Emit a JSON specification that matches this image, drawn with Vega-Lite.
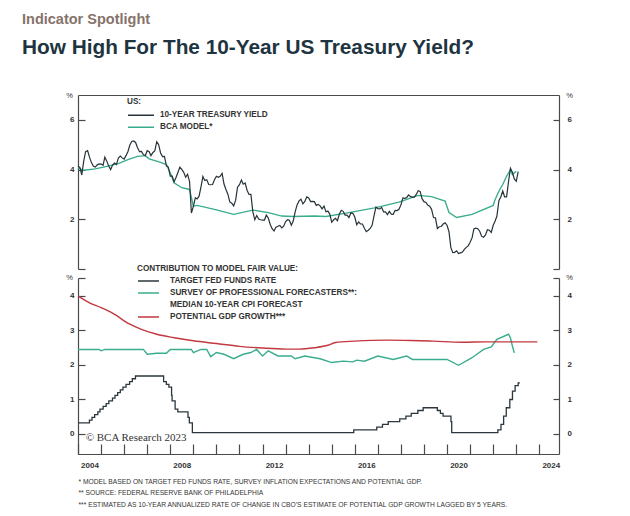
{
"$schema":"https://vega.github.io/schema/vega-lite/v6.json",
"background":"white",
"padding":{"left":22,"top":11,"right":5,"bottom":2},
"bounds":"flush",
"title":{"text":"Indicator Spotlight","subtitle":"How High For The 10-Year US Treasury Yield?","anchor":"start","frame":"group","dx":-56,"font":"Liberation Sans","fontSize":14.5,"fontWeight":"bold","color":"#86736a","subtitleFont":"Liberation Sans","subtitleFontSize":20.8,"subtitleFontWeight":"bold","subtitleColor":"#1e3440","subtitlePadding":11,"offset":32},
"config":{
"view":{"stroke":null},
"axis":{"domainColor":"#4a4a4a","tickColor":"#4a4a4a","domainWidth":1.2,"tickWidth":1.2,"labelFont":"Liberation Sans","labelFontSize":8,"labelFontWeight":"bold","labelColor":"#333","grid":false,"titleFont":"Liberation Sans","titleColor":"#333"},
"legend":{"padding":0,"labelFont":"Liberation Sans","labelFontSize":8.2,"labelFontWeight":"bold","labelColor":"#333","titleFont":"Liberation Sans","titleFontSize":8.2,"titleFontWeight":"bold","titleColor":"#333","symbolType":"stroke","symbolStrokeWidth":1.5,"rowPadding":0,"labelLimit":400,"titleLimit":400}
},
"resolve":{"scale":{"color":"independent","x":"independent"},"legend":{"color":"independent"}},
"spacing":9,
"datasets":{
"yield":[
{"d":"2004-01","v":4.15},{"d":"2004-02","v":4.08},{"d":"2004-03","v":3.78},{"d":"2004-04","v":4.35},{"d":"2004-05","v":4.72},{"d":"2004-06","v":4.76},{"d":"2004-07","v":4.50},{"d":"2004-08","v":4.28},{"d":"2004-09","v":4.13},{"d":"2004-10","v":4.10},{"d":"2004-11","v":4.19},{"d":"2004-12","v":4.23},
{"d":"2005-01","v":4.22},{"d":"2005-02","v":4.17},{"d":"2005-03","v":4.50},{"d":"2005-04","v":4.34},{"d":"2005-05","v":4.14},{"d":"2005-06","v":4.00},{"d":"2005-07","v":4.18},{"d":"2005-08","v":4.26},{"d":"2005-09","v":4.20},{"d":"2005-10","v":4.46},{"d":"2005-11","v":4.54},{"d":"2005-12","v":4.47},
{"d":"2006-01","v":4.42},{"d":"2006-02","v":4.57},{"d":"2006-03","v":4.72},{"d":"2006-04","v":4.99},{"d":"2006-05","v":5.13},{"d":"2006-06","v":5.15},{"d":"2006-07","v":5.09},{"d":"2006-08","v":4.88},{"d":"2006-09","v":4.72},{"d":"2006-10","v":4.73},{"d":"2006-11","v":4.60},{"d":"2006-12","v":4.56},
{"d":"2007-01","v":4.76},{"d":"2007-02","v":4.72},{"d":"2007-03","v":4.56},{"d":"2007-04","v":4.69},{"d":"2007-05","v":4.75},{"d":"2007-06","v":5.12},{"d":"2007-07","v":5.00},{"d":"2007-08","v":4.67},{"d":"2007-09","v":4.52},{"d":"2007-10","v":4.53},{"d":"2007-11","v":4.15},{"d":"2007-12","v":4.10},
{"d":"2008-01","v":3.74},{"d":"2008-02","v":3.74},{"d":"2008-03","v":3.51},{"d":"2008-04","v":3.68},{"d":"2008-05","v":3.88},{"d":"2008-06","v":4.10},{"d":"2008-07","v":4.01},{"d":"2008-08","v":3.89},{"d":"2008-09","v":3.69},{"d":"2008-10","v":3.81},{"d":"2008-11","v":3.53},{"d":"2008-12","v":2.25},
{"d":"2009-01","v":2.52},{"d":"2009-02","v":2.87},{"d":"2009-03","v":2.82},{"d":"2009-04","v":2.93},{"d":"2009-05","v":3.29},{"d":"2009-06","v":3.72},{"d":"2009-07","v":3.56},{"d":"2009-08","v":3.59},{"d":"2009-09","v":3.40},{"d":"2009-10","v":3.39},{"d":"2009-11","v":3.40},{"d":"2009-12","v":3.59},
{"d":"2010-01","v":3.73},{"d":"2010-02","v":3.69},{"d":"2010-03","v":3.73},{"d":"2010-04","v":3.85},{"d":"2010-05","v":3.42},{"d":"2010-06","v":3.20},{"d":"2010-07","v":3.01},{"d":"2010-08","v":2.70},{"d":"2010-09","v":2.65},{"d":"2010-10","v":2.54},{"d":"2010-11","v":2.76},{"d":"2010-12","v":3.29},
{"d":"2011-01","v":3.39},{"d":"2011-02","v":3.58},{"d":"2011-03","v":3.41},{"d":"2011-04","v":3.46},{"d":"2011-05","v":3.17},{"d":"2011-06","v":3.00},{"d":"2011-07","v":3.00},{"d":"2011-08","v":2.30},{"d":"2011-09","v":1.98},{"d":"2011-10","v":2.15},{"d":"2011-11","v":2.01},{"d":"2011-12","v":1.98},
{"d":"2012-01","v":1.97},{"d":"2012-02","v":1.97},{"d":"2012-03","v":2.17},{"d":"2012-04","v":2.05},{"d":"2012-05","v":1.80},{"d":"2012-06","v":1.62},{"d":"2012-07","v":1.53},{"d":"2012-08","v":1.68},{"d":"2012-09","v":1.72},{"d":"2012-10","v":1.75},{"d":"2012-11","v":1.65},{"d":"2012-12","v":1.72},
{"d":"2013-01","v":1.91},{"d":"2013-02","v":1.98},{"d":"2013-03","v":1.96},{"d":"2013-04","v":1.76},{"d":"2013-05","v":1.93},{"d":"2013-06","v":2.30},{"d":"2013-07","v":2.58},{"d":"2013-08","v":2.74},{"d":"2013-09","v":2.81},{"d":"2013-10","v":2.62},{"d":"2013-11","v":2.72},{"d":"2013-12","v":2.90},
{"d":"2014-01","v":2.86},{"d":"2014-02","v":2.71},{"d":"2014-03","v":2.72},{"d":"2014-04","v":2.71},{"d":"2014-05","v":2.56},{"d":"2014-06","v":2.60},{"d":"2014-07","v":2.54},{"d":"2014-08","v":2.42},{"d":"2014-09","v":2.53},{"d":"2014-10","v":2.30},{"d":"2014-11","v":2.33},{"d":"2014-12","v":2.21},
{"d":"2015-01","v":1.88},{"d":"2015-02","v":1.98},{"d":"2015-03","v":2.04},{"d":"2015-04","v":1.94},{"d":"2015-05","v":2.20},{"d":"2015-06","v":2.36},{"d":"2015-07","v":2.32},{"d":"2015-08","v":2.17},{"d":"2015-09","v":2.17},{"d":"2015-10","v":2.07},{"d":"2015-11","v":2.26},{"d":"2015-12","v":2.24},
{"d":"2016-01","v":2.09},{"d":"2016-02","v":1.78},{"d":"2016-03","v":1.89},{"d":"2016-04","v":1.81},{"d":"2016-05","v":1.81},{"d":"2016-06","v":1.64},{"d":"2016-07","v":1.50},{"d":"2016-08","v":1.56},{"d":"2016-09","v":1.63},{"d":"2016-10","v":1.76},{"d":"2016-11","v":2.14},{"d":"2016-12","v":2.49},
{"d":"2017-01","v":2.43},{"d":"2017-02","v":2.42},{"d":"2017-03","v":2.48},{"d":"2017-04","v":2.30},{"d":"2017-05","v":2.30},{"d":"2017-06","v":2.19},{"d":"2017-07","v":2.32},{"d":"2017-08","v":2.21},{"d":"2017-09","v":2.20},{"d":"2017-10","v":2.36},{"d":"2017-11","v":2.35},{"d":"2017-12","v":2.40},
{"d":"2018-01","v":2.58},{"d":"2018-02","v":2.86},{"d":"2018-03","v":2.84},{"d":"2018-04","v":2.87},{"d":"2018-05","v":2.98},{"d":"2018-06","v":2.91},{"d":"2018-07","v":2.89},{"d":"2018-08","v":2.89},{"d":"2018-09","v":3.00},{"d":"2018-10","v":3.15},{"d":"2018-11","v":3.12},{"d":"2018-12","v":2.83},
{"d":"2019-01","v":2.71},{"d":"2019-02","v":2.68},{"d":"2019-03","v":2.57},{"d":"2019-04","v":2.53},{"d":"2019-05","v":2.40},{"d":"2019-06","v":2.07},{"d":"2019-07","v":2.06},{"d":"2019-08","v":1.63},{"d":"2019-09","v":1.70},{"d":"2019-10","v":1.71},{"d":"2019-11","v":1.81},{"d":"2019-12","v":1.86},
{"d":"2020-01","v":1.76},{"d":"2020-02","v":1.50},{"d":"2020-03","v":0.87},{"d":"2020-04","v":0.66},{"d":"2020-05","v":0.67},{"d":"2020-06","v":0.73},{"d":"2020-07","v":0.62},{"d":"2020-08","v":0.65},{"d":"2020-09","v":0.68},{"d":"2020-10","v":0.79},{"d":"2020-11","v":0.87},{"d":"2020-12","v":0.93},
{"d":"2021-01","v":1.08},{"d":"2021-02","v":1.26},{"d":"2021-03","v":1.61},{"d":"2021-04","v":1.64},{"d":"2021-05","v":1.62},{"d":"2021-06","v":1.52},{"d":"2021-07","v":1.32},{"d":"2021-08","v":1.28},{"d":"2021-09","v":1.37},{"d":"2021-10","v":1.58},{"d":"2021-11","v":1.56},{"d":"2021-12","v":1.47},
{"d":"2022-01","v":1.76},{"d":"2022-02","v":1.93},{"d":"2022-03","v":2.13},{"d":"2022-04","v":2.75},{"d":"2022-05","v":2.90},{"d":"2022-06","v":3.14},{"d":"2022-07","v":2.90},{"d":"2022-08","v":2.90},{"d":"2022-09","v":3.52},{"d":"2022-10","v":4.05},{"d":"2022-11","v":3.89},{"d":"2022-12","v":3.62},
{"d":"2023-01","v":3.53},{"d":"2023-02","v":3.92}
],
"model":[
{"d":"2004-01","v":4.07},{"d":"2004-04","v":3.97},{"d":"2004-10","v":4.03},{"d":"2005-04","v":4.13},{"d":"2005-10","v":4.24},{"d":"2006-03","v":4.4},{"d":"2006-08","v":4.53},{"d":"2006-12","v":4.56},{"d":"2007-02","v":4.43},{"d":"2007-08","v":4.29},{"d":"2007-11","v":4.2},{"d":"2008-01","v":3.87},{"d":"2008-03","v":3.47},{"d":"2008-07","v":3.27},{"d":"2008-11","v":3.2},{"d":"2009-01","v":2.53},{"d":"2009-03","v":2.56},{"d":"2009-12","v":2.4},{"d":"2010-10","v":2.2},{"d":"2011-08","v":2.37},{"d":"2012-04","v":2.27},{"d":"2012-11","v":2.13},{"d":"2013-05","v":2.11},{"d":"2014-04","v":2.13},{"d":"2014-10","v":2.11},{"d":"2015-10","v":2.27},{"d":"2016-12","v":2.47},{"d":"2017-12","v":2.69},{"d":"2018-10","v":2.96},{"d":"2019-05","v":2.91},{"d":"2019-12","v":2.73},{"d":"2020-02","v":2.27},{"d":"2020-06","v":2.07},{"d":"2021-02","v":2.2},{"d":"2022-01","v":2.56},{"d":"2022-02","v":2.8},{"d":"2022-04","v":3.13},{"d":"2022-06","v":3.4},{"d":"2022-08","v":3.73},{"d":"2022-10","v":4.0},{"d":"2022-11","v":3.8},{"d":"2023-01","v":3.93}
],
"fed":[
{"d":"2004-01-01","v":0.32},{"d":"2004-06-30","v":0.40},{"d":"2004-08-10","v":0.48},{"d":"2004-09-21","v":0.56},{"d":"2004-11-10","v":0.64},{"d":"2004-12-14","v":0.72},{"d":"2005-02-02","v":0.80},{"d":"2005-03-22","v":0.88},{"d":"2005-05-03","v":0.96},{"d":"2005-06-30","v":1.04},{"d":"2005-08-09","v":1.12},{"d":"2005-09-20","v":1.20},{"d":"2005-11-01","v":1.28},{"d":"2005-12-13","v":1.36},{"d":"2006-01-31","v":1.44},{"d":"2006-03-28","v":1.52},{"d":"2006-05-10","v":1.60},{"d":"2006-06-29","v":1.68},{"d":"2007-09-18","v":1.52},{"d":"2007-10-31","v":1.44},{"d":"2007-12-11","v":1.36},{"d":"2008-01-22","v":1.12},{"d":"2008-01-30","v":0.96},{"d":"2008-03-18","v":0.72},{"d":"2008-04-30","v":0.64},{"d":"2008-10-08","v":0.48},{"d":"2008-10-29","v":0.32},{"d":"2008-12-16","v":0.04},{"d":"2015-12-16","v":0.12},{"d":"2016-12-14","v":0.20},{"d":"2017-03-15","v":0.28},{"d":"2017-06-14","v":0.36},{"d":"2017-12-13","v":0.44},{"d":"2018-03-21","v":0.52},{"d":"2018-06-13","v":0.60},{"d":"2018-09-26","v":0.68},{"d":"2018-12-19","v":0.76},{"d":"2019-07-31","v":0.68},{"d":"2019-09-18","v":0.60},{"d":"2019-10-30","v":0.52},{"d":"2020-03-03","v":0.36},{"d":"2020-03-15","v":0.04},{"d":"2022-03-16","v":0.12},{"d":"2022-05-04","v":0.28},{"d":"2022-06-15","v":0.52},{"d":"2022-07-27","v":0.76},{"d":"2022-09-21","v":1.00},{"d":"2022-11-02","v":1.24},{"d":"2022-12-14","v":1.40},{"d":"2023-02-01","v":1.48},{"d":"2023-02-28","v":1.48}
],
"spf":[
{"d":"2004-01","v":2.45},{"d":"2004-12","v":2.45},{"d":"2005-01","v":2.41},{"d":"2005-03","v":2.45},{"d":"2006-11","v":2.45},{"d":"2007-01","v":2.31},{"d":"2007-06","v":2.34},{"d":"2007-11","v":2.34},{"d":"2008-01","v":2.45},{"d":"2008-12","v":2.45},{"d":"2009-01","v":2.36},{"d":"2009-05","v":2.45},{"d":"2009-08","v":2.45},{"d":"2009-10","v":2.24},{"d":"2010-01","v":2.36},{"d":"2010-05","v":2.31},{"d":"2010-10","v":2.18},{"d":"2011-03","v":2.31},{"d":"2011-07","v":2.36},{"d":"2011-10","v":2.45},{"d":"2012-01","v":2.26},{"d":"2012-04","v":2.41},{"d":"2012-09","v":2.26},{"d":"2013-04","v":2.26},{"d":"2013-06","v":2.18},{"d":"2013-11","v":2.26},{"d":"2014-04","v":2.21},{"d":"2014-07","v":2.18},{"d":"2015-01","v":2.07},{"d":"2015-07","v":2.11},{"d":"2015-12","v":2.09},{"d":"2016-02","v":2.14},{"d":"2016-06","v":2.11},{"d":"2017-01","v":2.26},{"d":"2017-09","v":2.16},{"d":"2018-04","v":2.26},{"d":"2018-07","v":2.16},{"d":"2020-01","v":2.16},{"d":"2020-07","v":1.99},{"d":"2021-02","v":2.21},{"d":"2021-08","v":2.45},{"d":"2021-12","v":2.52},{"d":"2022-01","v":2.6},{"d":"2022-03","v":2.74},{"d":"2022-09","v":2.89},{"d":"2022-10","v":2.78},{"d":"2022-11","v":2.55},{"d":"2022-12","v":2.35}
],
"gdp":[
{"d":"2004-01","v":4.0},{"d":"2004-07","v":3.8},{"d":"2005-01","v":3.66},{"d":"2005-07","v":3.5},{"d":"2006-04","v":3.18},{"d":"2006-10","v":3.03},{"d":"2007-06","v":2.89},{"d":"2008-03","v":2.79},{"d":"2009-01","v":2.7},{"d":"2010-01","v":2.62},{"d":"2011-01","v":2.54},{"d":"2012-01","v":2.49},{"d":"2013-01","v":2.46},{"d":"2013-08","v":2.46},{"d":"2014-04","v":2.5},{"d":"2014-11","v":2.57},{"d":"2015-03","v":2.65},{"d":"2016-01","v":2.69},{"d":"2017-06","v":2.72},{"d":"2018-06","v":2.71},{"d":"2019-06","v":2.69},{"d":"2020-09","v":2.66},{"d":"2021-09","v":2.67},{"d":"2023-12","v":2.67}
],
"note":[{"label":"© BCA Research 2023"}]
},
"vconcat":[
{
"width":481,"height":174,
"encoding":{"x":{"field":"d","type":"temporal","scale":{"type":"utc","domain":[{"year":2004,"month":1,"date":1,"utc":true},{"year":2024,"month":11,"date":8,"utc":true}]},"axis":{"orient":"top","labels":false,"ticks":false,"title":null}}},
"layer":[
{"data":{"name":"model"},"mark":{"type":"line","strokeWidth":1.4},
"encoding":{
"y":{"field":"v","type":"quantitative","scale":{"domain":[0,7],"nice":false,"zero":false},"axis":{"values":[0,2,4,6],"labelExpr":"datum.value==0 ? '' : datum.label","tickSize":-7,"labelPadding":11,"title":"%","titleAngle":0,"titleX":-9,"titleY":0,"titleFontSize":7.5,"titleFontWeight":"normal","titleAlign":"center","titleBaseline":"middle"}},
"color":{"datum":"BCA MODEL*","scale":{"domain":["10-YEAR TREASURY YIELD","BCA MODEL*"],"range":["#26333a","#3aad8e"]},"legend":{"orient":"none","legendX":49,"legendY":3,"title":"US:","symbolSize":676,"clipHeight":12,"labelOffset":5,"titlePadding":3}}
}},
{"data":{"name":"yield"},"mark":{"type":"line","strokeWidth":1.2},
"encoding":{"y":{"field":"v","type":"quantitative","scale":{"domain":[0,7],"nice":false,"zero":false},"axis":null},"color":{"datum":"10-YEAR TREASURY YIELD"}}},
{"data":{"name":"yield"},"mark":{"type":"line","opacity":0},
"encoding":{"y":{"field":"v","type":"quantitative","scale":{"domain":[0,7],"nice":false,"zero":false},"axis":{"orient":"right","values":[0,2,4,6],"labelExpr":"datum.value==0 ? '' : datum.label","tickSize":-6,"labelPadding":14,"title":"%","titleAngle":0,"titleX":10,"titleY":0,"titleFontSize":7.5,"titleFontWeight":"normal","titleAlign":"center","titleBaseline":"middle"}}}}
],
"resolve":{"scale":{"y":"independent"}}
},
{
"width":481,"height":176,
"layer":[
{
"encoding":{"x":{"field":"d","type":"temporal","scale":{"type":"utc","domain":[{"year":2004,"month":1,"date":1,"utc":true},{"year":2024,"month":11,"date":8,"utc":true}]},"axis":{"orient":"bottom","tickCount":{"interval":"year","step":1},"tickSize":-10,"labelExpr":"utcyear(datum.value) % 4 == 0 ? utcFormat(datum.value, '%Y') : ''","labelOffset":11.5,"labelFlush":false,"labelOverlap":false,"labelPadding":17,"title":["*   MODEL BASED ON TARGET FED FUNDS RATE, SURVEY INFLATION EXPECTATIONS AND POTENTIAL GDP.","**  SOURCE: FEDERAL RESERVE BANK OF PHILADELPHIA","*** ESTIMATED AS 10-YEAR ANNUALIZED RATE OF CHANGE IN CBO’S ESTIMATE OF POTENTIAL GDP GROWTH LAGGED BY 5 YEARS."],"titleX":0,"titleY":24,"titleAlign":"left","titleBaseline":"top","titleAngle":0,"titleFontSize":6.7,"titleFontWeight":"normal","titleLineHeight":11.5}}},
"layer":[
{"data":{"name":"spf"},"mark":{"type":"line","strokeWidth":1.4},
"encoding":{
"y":{"field":"v","type":"quantitative","scale":{"domain":[-0.58,4.52],"nice":false,"zero":false},"axis":{"values":[0,1,2,3,4,4.52],"labelExpr":"datum.value > 4.4 ? '' : datum.label","tickSize":-7,"labelPadding":11,"title":"%","titleAngle":0,"titleX":-9,"titleY":-1,"titleFontSize":7.5,"titleFontWeight":"normal","titleAlign":"center","titleBaseline":"middle"}},
"color":{"datum":"SURVEY OF PROFESSIONAL FORECASTERS**:","scale":{"domain":["TARGET FED FUNDS RATE","SURVEY OF PROFESSIONAL FORECASTERS**:","MEDIAN 10-YEAR CPI FORECAST","POTENTIAL GDP GROWTH***"],"range":["#2b373c","#3aad8e","transparent","#c2383f"]},"legend":{"orient":"none","legendX":59,"legendY":-13,"title":"CONTRIBUTION TO MODEL FAIR VALUE:","symbolSize":441,"clipHeight":11.7,"labelOffset":10,"titlePadding":2}}
}},
{"data":{"name":"gdp"},"mark":{"type":"line","strokeWidth":1.4,"interpolate":"monotone"},
"encoding":{"y":{"field":"v","type":"quantitative","scale":{"domain":[-0.58,4.52],"nice":false,"zero":false},"axis":null},"color":{"datum":"POTENTIAL GDP GROWTH***"}}},
{"data":{"name":"fed"},"mark":{"type":"line","strokeWidth":1.3,"interpolate":"step-after"},
"encoding":{"y":{"field":"v","type":"quantitative","scale":{"domain":[-0.58,4.52],"nice":false,"zero":false},"axis":null},"color":{"datum":"TARGET FED FUNDS RATE"}}},
{"data":{"name":"fed"},"mark":{"type":"line","opacity":0},
"encoding":{"y":{"field":"v","type":"quantitative","scale":{"domain":[-0.58,4.52],"nice":false,"zero":false},"axis":{"orient":"right","values":[0,1,2,3,4,4.52],"labelExpr":"datum.value > 4.4 ? '' : datum.label","tickSize":-6,"labelPadding":14,"title":"%","titleAngle":0,"titleX":10,"titleY":-1,"titleFontSize":7.5,"titleFontWeight":"normal","titleAlign":"center","titleBaseline":"middle"}}}}
],
"resolve":{"scale":{"y":"independent"}}
},
{"data":{"name":"note"},"mark":{"type":"text","font":"Liberation Serif","fontSize":11,"align":"left","baseline":"middle","color":"#333"},
"encoding":{"text":{"field":"label"},"x":{"datum":{"year":2004,"month":5,"date":1,"utc":true},"type":"temporal"},"y":{"datum":-0.12,"type":"quantitative","scale":{"domain":[-0.58,4.52],"nice":false,"zero":false},"axis":null}}}
],
"resolve":{"scale":{"y":"independent"}}
}
]
}
